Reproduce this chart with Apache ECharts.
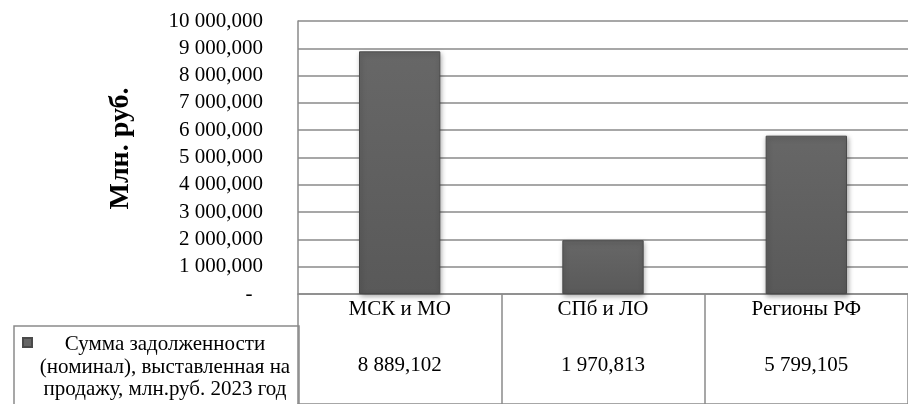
<!DOCTYPE html>
<html><head><meta charset="utf-8">
<script src="https://cdn.jsdelivr.net/npm/echarts@6/dist/echarts.min.js"></script>
<style>html,body{margin:0;padding:0;background:#fff}#c{width:908px;height:404px}</style>
</head><body><div id="c"></div>
<script>
const categories = ['МСК и МО', 'СПб и ЛО', 'Регионы РФ'];
const values = [8889.102, 1970.813, 5799.105];
const seriesName = 'Сумма задолженности\n(номинал), выставленная на\nпродажу, млн.руб. 2023 год';
const axisTitle = 'Млн. руб.';
const yMin = 0, yMax = 10000, yStep = 1000;

function fmt(v) {
  const parts = v.toFixed(3).split('.');
  const intPart = parts[0].replace(/\B(?=(\d{3})+(?!\d))/g, ' ');
  return intPart + ',' + parts[1];
}
const FONT = "'Liberation Serif', 'Times New Roman', 'DejaVu Serif', serif";
const LINE = '#8a8a8a';
const FS = 21;

const chart = echarts.init(document.getElementById('c'), null, {renderer: 'canvas'});
chart.setOption({
  backgroundColor: '#fff',
  animation: false,
  textStyle: {fontFamily: FONT},
  grid: [
    {left: 298, top: 21, width: 626, height: 273},
    {left: 298, top: 326, width: 626, height: 200}
  ],
  xAxis: [
    {
      type: 'category', gridIndex: 0, data: categories,
      axisLine: {show: true, lineStyle: {color: LINE, width: 1.5}},
      axisTick: {show: true, length: 32, lineStyle: {color: LINE, width: 1.5}},
      axisLabel: {color: '#000', fontFamily: FONT, fontSize: FS, margin: 5}
    },
    {
      type: 'category', gridIndex: 1, data: categories, position: 'top',
      axisLine: {show: true, lineStyle: {color: LINE, width: 1.5}},
      axisTick: {show: false},
      splitLine: {show: true, lineStyle: {color: LINE, width: 1.5}},
      axisLabel: {inside: true, color: '#000', fontFamily: FONT, fontSize: FS, margin: 29,
        formatter: (val, idx) => fmt(values[idx])}
    }
  ],
  yAxis: [
    {
      type: 'value', gridIndex: 0, min: yMin, max: yMax, interval: yStep,
      name: axisTitle, nameLocation: 'middle', nameRotate: 90, nameGap: 163,
      nameTextStyle: {fontFamily: FONT, fontSize: 28, fontWeight: 'bold', color: '#000', padding: [0, 0, 0, 18]},
      axisLine: {show: true, lineStyle: {color: LINE, width: 1.5}},
      axisTick: {show: false},
      splitLine: {show: true, lineStyle: {color: LINE, width: 1.5}},
      axisLabel: {color: '#000', fontFamily: FONT, fontSize: FS, margin: 35,
        formatter: v => v === 0 ? '-  ' : fmt(v)}
    },
    {type: 'value', gridIndex: 1, show: false}
  ],
  legend: {
    data: [seriesName], left: 14, top: 326, orient: 'vertical',
    padding: [8, 6, 40, 8], borderColor: LINE, borderWidth: 1.5,
    icon: 'path://M0,0H9V9H0Z M0,58H0Z', itemWidth: 9, itemHeight: 58,
    formatter: name => name.split('\n').map(s => '{a|' + s + '}').join('\n'),
    textStyle: {fontFamily: FONT, fontSize: FS, color: '#000',
      rich: {a: {width: 256, align: 'center', fontFamily: FONT, fontSize: FS, lineHeight: 22.5}}}
  },
  series: [{
    type: 'bar', name: seriesName, xAxisIndex: 0, yAxisIndex: 0, data: values, barWidth: '40%',
    itemStyle: {
      color: new echarts.graphic.LinearGradient(0, 0, 0, 1, [
        {offset: 0, color: '#676767'}, {offset: 1, color: '#595959'}]),
      borderColor: '#4a4a4a', borderWidth: 1,
      shadowBlur: 5, shadowColor: 'rgba(0,0,0,0.35)', shadowOffsetX: 1, shadowOffsetY: 2
    }
  }]
});
</script></body></html>
